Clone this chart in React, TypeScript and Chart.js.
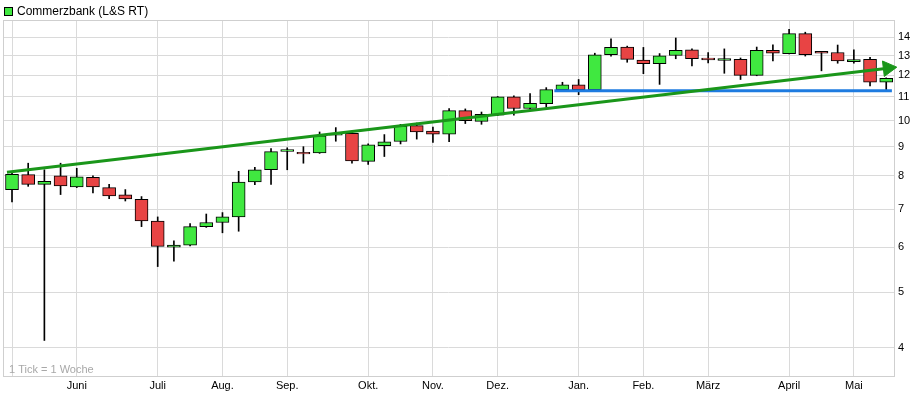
import { useEffect, useRef } from "react";
import { Chart, registerables } from "chart.js";

Chart.register(...registerables);

// Weekly OHLC (one candle per week)
const opens = [7.57, 8.04, 7.73, 8.0, 7.65, 7.95, 7.63, 7.41, 7.28, 6.67, 6.0, 6.05, 6.52, 6.63, 6.78, 7.81, 8.2, 8.83, 8.8, 8.78, 9.43, 9.5, 8.48, 9.04, 9.19, 9.8, 9.58, 9.47, 10.41, 9.97, 10.22, 11.0, 10.5, 10.7, 11.33, 11.55, 11.33, 13.04, 13.45, 12.76, 12.58, 13.0, 13.3, 12.87, 12.74, 12.8, 12.0, 13.27, 13.1, 14.2, 13.22, 13.16, 12.68, 12.8, 11.67];
const highs = [8.1, 8.42, 8.2, 8.42, 8.25, 8.0, 7.73, 7.57, 7.36, 6.78, 6.16, 6.6, 6.86, 6.9, 8.15, 8.28, 8.93, 8.96, 9.0, 9.55, 9.72, 9.58, 9.1, 9.45, 9.85, 9.9, 9.74, 10.5, 10.48, 10.35, 11.02, 11.05, 11.15, 11.42, 11.67, 11.8, 13.12, 13.9, 13.5, 13.43, 13.1, 13.95, 13.35, 13.16, 13.35, 12.87, 13.45, 13.57, 14.45, 14.28, 13.22, 13.56, 13.3, 12.9, 11.88];
const lows = [7.2, 7.67, 4.12, 7.42, 7.63, 7.47, 7.3, 7.23, 6.52, 5.55, 5.67, 6.03, 6.5, 6.36, 6.4, 7.72, 7.73, 8.2, 8.42, 8.76, 9.2, 8.42, 8.38, 8.65, 9.1, 9.28, 9.16, 9.18, 9.88, 9.85, 10.2, 10.22, 10.42, 10.55, 11.3, 11.1, 11.3, 12.97, 12.65, 12.08, 11.57, 12.83, 12.46, 12.62, 12.1, 11.8, 11.98, 12.72, 13.08, 12.97, 12.22, 12.6, 12.6, 11.5, 11.32];
const closes = [8.05, 7.73, 7.83, 7.68, 7.97, 7.65, 7.38, 7.29, 6.67, 6.02, 6.05, 6.52, 6.63, 6.78, 7.8, 8.2, 8.82, 8.9, 8.74, 9.4, 9.5, 8.5, 9.07, 9.18, 9.78, 9.55, 9.47, 10.41, 10.0, 10.25, 11.0, 10.5, 10.72, 11.33, 11.55, 11.33, 13.04, 13.43, 12.8, 12.58, 12.98, 13.27, 12.83, 12.77, 12.84, 12.0, 13.27, 13.12, 14.2, 13.04, 13.12, 12.72, 12.79, 11.67, 11.86];

// X axis (week index) month ticks
const monthTickIdx = [0, 4, 9, 13, 17, 22, 26, 30, 35, 39, 43, 48, 52];
const monthLabels = ["", "Juni", "Juli", "Aug.", "Sep.", "Okt.", "Nov.", "Dez.", "Jan.", "Feb.", "März", "April", "Mai"];

// Y axis ticks (log scale)
const priceTicks = [4, 5, 6, 7, 8, 9, 10, 11, 12, 13, 14];

// Drawn lines: rising trend (with arrow) and horizontal support
const trendX = [-0.31, 54.1];
const trendY = [8.12, 12.35];
const supportX = [33.5, 54.35];
const supportY = [11.28, 11.28];

const seriesName = "Commerzbank (L&S RT)";
const footNote = "1 Tick = 1 Woche";

const GREEN = "#40e840";
const RED = "#e84444";
const FONT = "'Liberation Sans', Arial, sans-serif";

const decor = {
  id: "decor",
  beforeDatasetsDraw(chart: any) {
    const { ctx, chartArea: a } = chart;
    ctx.save();
    ctx.strokeStyle = "#cfcfcf";
    ctx.lineWidth = 1;
    ctx.strokeRect(Math.round(a.left) + 0.5, Math.round(a.top) + 0.5, Math.round(a.right - a.left), Math.round(a.bottom - a.top));
    ctx.fillStyle = "#a8a8a8";
    ctx.font = `11px ${FONT}`;
    ctx.textBaseline = "middle";
    ctx.fillText(footNote, 9, a.bottom - 6);
    ctx.restore();
  },
  afterDraw(chart: any) {
    const { ctx } = chart;
    ctx.save();
    ctx.fillStyle = GREEN;
    ctx.fillRect(4.5, 7.5, 8, 8);
    ctx.strokeStyle = "#000";
    ctx.lineWidth = 1;
    ctx.strokeRect(4.5, 7.5, 8, 8);
    ctx.fillStyle = "#000";
    ctx.font = `12px ${FONT}`;
    ctx.textBaseline = "middle";
    ctx.fillText(seriesName, 17, 12);
    ctx.restore();
  },
};

export default function App() {
  const ref = useRef<HTMLCanvasElement | null>(null);

  useEffect(() => {
    if (!ref.current) return;
    const colors = opens.map((o, i) => (closes[i] >= o ? GREEN : RED));
    const chart = new Chart(ref.current, {
      type: "bar",
      data: {
        datasets: [
          {
            type: "line",
            label: "Trend",
            data: trendX.map((x, i) => ({ x, y: trendY[i] })),
            borderColor: "#1a961a",
            backgroundColor: "#1a961a",
            borderWidth: 3,
            pointRadius: [0, 9],
            pointHoverRadius: 0,
            pointStyle: "triangle",
            pointRotation: 83.3,
            pointBackgroundColor: "#1a961a",
            pointBorderColor: "#1a961a",
            pointBorderWidth: 1,
            clip: false,
            order: 0,
          } as any,
          {
            type: "line",
            label: "Support",
            data: supportX.map((x, i) => ({ x, y: supportY[i] })),
            borderColor: "#1e7be0",
            borderWidth: 3,
            pointRadius: 0,
            order: 1,
          } as any,
          {
            type: "bar",
            label: seriesName,
            data: opens.map((o, i) => ({ x: i, y: [o, closes[i]] })),
            backgroundColor: colors,
            borderColor: "#000",
            borderWidth: 1,
            borderSkipped: false,
            barThickness: 13,
            grouped: false,
            order: 2,
          } as any,
          {
            type: "bar",
            label: "Range",
            data: lows.map((l, i) => ({ x: i, y: [l, highs[i]] })),
            backgroundColor: "#000",
            borderWidth: 0,
            barThickness: 1,
            grouped: false,
            order: 3,
          } as any,
        ],
      },
      options: {
        animation: false,
        responsive: false,
        events: [],
        layout: { autoPadding: false, padding: { left: 3, top: 20, right: 0, bottom: 0 } },
        plugins: { legend: { display: false }, tooltip: { enabled: false } },
        scales: {
          x: {
            type: "linear",
            offset: false,
            min: -0.556,
            max: 54.48,
            afterBuildTicks: (s: any) => {
              s.ticks = monthTickIdx.map((v) => ({ value: v }));
            },
            afterFit: (s: any) => {
              s.height = 22;
              s.paddingLeft = 0;
              s.paddingRight = 0;
            },
            ticks: {
              autoSkip: false,
              maxRotation: 0,
              padding: 3,
              color: "#000",
              font: { family: FONT, size: 11 },
              callback: (_v: any, i: number) => monthLabels[i] ?? "",
            },
            grid: { color: "#dadada", drawTicks: false, offset: false },
            border: { display: false },
          },
          y: {
            type: "logarithmic",
            position: "right",
            min: 3.57,
            max: 15.0,
            afterBuildTicks: (s: any) => {
              s.ticks = priceTicks.map((v) => ({ value: v }));
            },
            afterFit: (s: any) => {
              s.width = 24;
            },
            ticks: {
              padding: 4,
              color: "#000",
              font: { family: FONT, size: 11 },
              callback: (_v: any, i: number) => String(priceTicks[i]),
            },
            grid: { color: "#dadada", drawTicks: false },
            border: { display: false },
          },
        },
      } as any,
      plugins: [decor],
    });
    return () => chart.destroy();
  }, []);

  return (
    <div style={{ position: "fixed", left: 0, top: 0, width: 918, height: 398, background: "#fff" }}>
      <canvas ref={ref} width={918} height={398} style={{ display: "block" }} />
    </div>
  );
}
